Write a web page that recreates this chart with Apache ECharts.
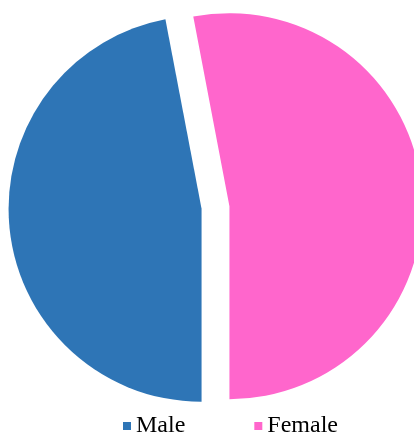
<!DOCTYPE html>
<html>
<head>
    <meta charset="utf-8">
    <title>index</title>
    <style>
        html, body { margin: 0; padding: 0; background: #fff; }
        #container { width: 414px; height: 434px; }
    </style>
</head>
<body>
    <div id="container"></div>
    <script src="https://cdn.jsdelivr.net/npm/echarts@6/dist/echarts.min.js"></script>
    <script type="text/javascript">
        var categories = ['Male', 'Female'];
        var values = [47, 53];
        var colors = ['#2e75b6', '#ff66cc'];

        var data = categories.map(function (name, i) {
            return {
                name: name,
                value: values[i],
                selected: true,
                itemStyle: { color: colors[i] }
            };
        });

        var myChart = echarts.init(document.getElementById('container'));
        var option = {
            backgroundColor: '#fff',
            animation: false,
            legend: {
                data: categories,
                left: 123,
                top: 414,
                padding: 0,
                itemWidth: 8,
                itemHeight: 8,
                itemGap: 69,
                icon: 'rect',
                textStyle: {
                    fontFamily: 'Liberation Serif',
                    fontSize: 24,
                    color: '#000'
                }
            },
            series: [{
                type: 'pie',
                center: [215.5, 207.5],
                radius: 193,
                startAngle: -90,
                clockwise: true,
                selectedMode: 'multiple',
                selectedOffset: 14,
                label: { show: false },
                labelLine: { show: false },
                emphasis: { scale: false },
                select: { itemStyle: { borderWidth: 0 } },
                data: data
            }]
        };
        myChart.setOption(option, true);
    </script>
</body>
</html>
